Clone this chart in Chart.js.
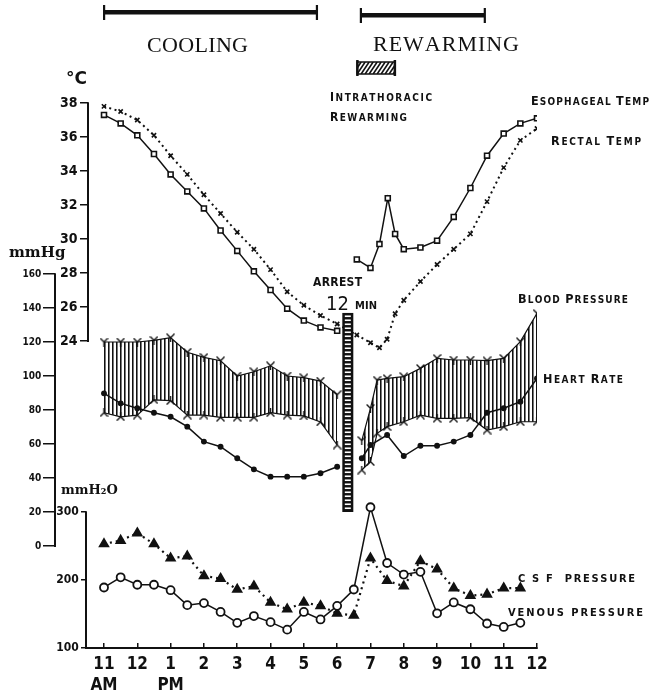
<!DOCTYPE html>
<html><head><meta charset="utf-8">
<script src="https://cdn.jsdelivr.net/npm/chart.js@4.4.0/dist/chart.umd.min.js"></script>
<style>html,body{margin:0;padding:0;background:#fff;}</style>
</head><body>
<canvas id="c" width="652" height="694"></canvas>
<script>
// ---------------- DATA ----------------
const hourLabels = ['11','12','1','2','3','4','5','6','7','8','9','10','11','12'];
const meridiem   = ['AM','','PM','','','','','','','','','','',''];
const tempTicks  = [24,26,28,30,32,34,36,38];
const mmHgTicks  = [0,20,40,60,80,100,120,140,160];
const mmH2OTicks = [100,200,300];

// hours after 11 AM; null value = break in the trace (cardiac arrest)
const esoTimes  = [0,0.5,1,1.5,2,2.5,3,3.5,4,4.5,5,5.5,6,6.5,7,7.3,7.59,8,8.27,8.52,8.74,9,9.5,10,10.5,11,11.5,12,12.5,13];
const esoTemp   = [37.3,36.8,36.1,35.0,33.8,32.8,31.8,30.5,29.3,28.1,27.0,25.9,25.2,24.8,24.6,null,28.8,28.3,29.7,32.4,30.3,29.4,29.5,29.9,31.3,33.0,34.9,36.2,36.8,37.1];

const rectTimes = [0,0.5,1,1.5,2,2.5,3,3.5,4,4.5,5,5.5,6,6.5,7,7.59,8,8.27,8.5,8.74,9,9.5,10,10.5,11,11.5,12,12.5,13];
const rectTemp  = [37.8,37.5,37.0,36.1,34.9,33.8,32.6,31.5,30.4,29.4,28.2,26.9,26.1,25.5,25.0,24.35,23.9,23.6,24.1,25.6,26.4,27.5,28.5,29.4,30.3,32.2,34.2,35.8,36.5];

const bpTimes   = [0,0.5,1,1.5,2,2.5,3,3.5,4,4.5,5,5.5,6,6.5,7,7.4,7.74,8,8.2,8.5,9,9.5,10,10.5,11,11.5,12,12.5,13];
const systolic  = [120,120,120,121,122.5,114,111,109,100,102.5,106,100,99,97,89,null,62,81,97.6,98.6,99.6,104.5,110.4,109.4,109.4,109,110.4,120.2,136.9];
const diastolic = [78.4,76,77,86,85.5,77,77,75.7,75.7,75.7,78.4,77,76.5,73,59.4,null,44.7,49.6,66.3,70.2,73.1,77,75.1,75.1,75.5,68.2,70.2,73.1,73.1];

const hrTimes   = [0,0.5,1,1.5,2,2.5,3,3.5,4,4.5,5,5.5,6,6.5,7,7.4,7.74,8,8.5,9,9.5,10,10.5,11,11.5,12,12.5,13];
const heartRate = [89.8,83.9,81,78.4,76,70.2,61.4,58.4,51.6,45.1,40.8,40.8,40.8,42.8,46.6,null,51.6,59.4,65.3,52.9,59,59,61.4,65.3,78.4,81,84.9,98.6];

const pTimes    = [0,0.5,1,1.5,2,2.5,3,3.5,4,4.5,5,5.5,6,6.5,7,7.5,8,8.5,9,9.5,10,10.5,11,11.5,12,12.5];
const csfPress  = [253,258,269,253,232,235,206,202,186,191,167,157,167,162,151,148,232,199,191,228,216,188,177,179,188,188];
const venPress  = [189,204,193,193,185,163,166,153,137,147,138,127,153,142,162,186,307,225,208,212,151,167,157,136,131,137];

// event bars (hours after 11 AM)
const phaseNames = ['COOLING','REWARMING'];
const phaseStart = [0, 7.71];
const phaseEnd   = [6.39, 11.43];
const intraThoracic = [7.6, 8.74];
const arrestTime = [7.32];

// ---------------- LAYOUT ----------------
const AREA = {left:86, right:537, top:95, bottom:648};
const pxPerHour = (537-104)/13;
const hx = p => (p-104)/pxPerHour;
function yr(v0,p0,v1,p1){const k=(p1-p0)/(v1-v0);return {min:v0+(AREA.bottom-p0)/k,max:v0+(AREA.top-p0)/k};}
const rT = yr(38,103,24,341), rP = yr(0,546,160,274), rW = yr(100,648,300,512);
const INK = '#111';
const COND = '"DejaVu Sans Condensed","Liberation Sans Narrow","DejaVu Sans",sans-serif';

const pts = (t,v)=>t.map((x,i)=>({x:x,y:v[i]}));

function mark(up){
  const s=9,c=document.createElement('canvas');c.width=s;c.height=s;
  const g=c.getContext('2d');g.strokeStyle=INK;g.lineWidth=1.4;g.lineCap='round';g.beginPath();
  if(up){g.moveTo(1,1);g.lineTo(4.5,4.5);g.lineTo(8,1);g.moveTo(4.5,4.5);g.lineTo(4.5,8.5);}
  else{g.moveTo(1,8);g.lineTo(4.5,4.5);g.lineTo(8,8);g.moveTo(4.5,4.5);g.lineTo(4.5,0.5);}
  g.stroke();return c;
}
const canvas=document.getElementById('c');
const mainCtx=canvas.getContext('2d');
const pc=document.createElement('canvas');pc.width=4;pc.height=4;
const pg=pc.getContext('2d');pg.fillStyle='#111';pg.fillRect(0,0,1,4);pg.fillStyle='#777';pg.fillRect(1,0,1,4);
const hatch=mainCtx.createPattern(pc,'repeat');

function yAxis(r,ticksArr,posPx,tl,size){
  return {type:'linear',min:r.min,max:r.max,position:{x:hx(posPx)},
    afterBuildTicks:s=>{s.ticks=ticksArr.map(v=>({value:v}));},
    ticks:{autoSkip:false,color:INK,font:{family:COND,size:size,weight:'bold'},callback:v=>v+'\u2009'},
    grid:{drawOnChartArea:false,drawTicks:true,tickLength:tl,color:INK,lineWidth:1.5},
    border:{display:false}};
}

// spines, event bars, labels
function fitText(ctx,text,x,y,w,big,small,family,weight){
  // small-caps style text stretched to width w
  const chars=[...text];let start=true;const items=[];
  for(const ch of chars){
    if(ch===' '){items.push({ch,size:small,space:true});start=true;continue;}
    items.push({ch,size:start?big:small});start=false;
  }
  let nat=0;
  for(const it of items){ctx.font=`${weight} ${it.size}px ${family}`;it.w=ctx.measureText(it.ch).width;nat+=it.w;}
  const sp=items.length>1?(w-nat)/(items.length-1):0;
  let cx=x;ctx.textBaseline='alphabetic';ctx.textAlign='left';
  for(const it of items){ctx.font=`${weight} ${it.size}px ${family}`;if(!it.space)ctx.fillText(it.ch,cx,y);cx+=it.w+sp;}
}
const labels=[
  {t:'ESOPHAGEAL TEMP',x:531,y:105,w:118,b:12.5,s:10},
  {t:'RECTAL TEMP',x:551,y:145,w:90,b:12.5,s:10},
  {t:'BLOOD PRESSURE',x:518,y:303,w:110,b:12.5,s:10},
  {t:'HEART RATE',x:543,y:383,w:80,b:12.5,s:10},
  {t:'INTRATHORACIC',x:330,y:101,w:102,b:12,s:10},
  {t:'REWARMING',x:330,y:121,w:77,b:12,s:10},
  {t:'ARREST',x:313,y:286,w:49,b:12,s:12},
  {t:'C S F  PRESSURE',x:518,y:582,w:117,b:11,s:11},
  {t:'VENOUS PRESSURE',x:508,y:616,w:135,b:11,s:11}
];
const overlay={id:'overlay',
  afterDatasetsDraw(chart){
    const ctx=chart.ctx,X=chart.scales.x;
    ctx.save();
    // arrest ladder bar
    const xc=X.getPixelForValue(arrestTime[0]);
    const top=chart.scales.yT.getPixelForValue(25.65), bot=chart.scales.yW.getPixelForValue(300);
    ctx.fillStyle=INK;ctx.fillRect(xc-5.5,top,11,bot-top);
    ctx.fillStyle='#fff';
    for(let y=top+2.5;y<bot-3;y+=4){ctx.fillRect(xc-3,y,6,1.6);}
    ctx.restore();
  },
  afterDraw(chart){
    const ctx=chart.ctx,X=chart.scales.x;
    ctx.save();ctx.strokeStyle=INK;ctx.fillStyle=INK;
    // partial axis spines
    for(const id of ['yT','yP','yW']){
      const s=chart.scales[id],o=s.options;
      const xp=X.getPixelForValue(o.position.x)-o.grid.tickLength;
      const tv=id==='yT'?tempTicks:id==='yP'?mmHgTicks:mmH2OTicks;
      ctx.lineWidth=2;ctx.beginPath();
      ctx.moveTo(xp,s.getPixelForValue(tv[tv.length-1])-0.75);ctx.lineTo(xp,s.getPixelForValue(tv[0])+1);ctx.stroke();
    }
    // phase bars
    const barY=[12,15];
    for(let i=0;i<2;i++){
      const a=X.getPixelForValue(phaseStart[i]),b=X.getPixelForValue(phaseEnd[i]);
      ctx.fillRect(a,barY[i]-2,b-a,4.5);
      ctx.fillRect(a-1,barY[i]-7,2.2,15);ctx.fillRect(b-1,barY[i]-7,2.2,15);
    }
    ctx.font='22px "Liberation Serif","DejaVu Serif",serif';
    fitText(ctx,phaseNames[0],147,52,101,22,22,'"Liberation Serif",serif','');
    fitText(ctx,phaseNames[1],373,51,146,22,22,'"Liberation Serif",serif','');
    // intrathoracic rewarming box
    const ia=X.getPixelForValue(intraThoracic[0]),ib=X.getPixelForValue(intraThoracic[1]);
    ctx.save();ctx.beginPath();ctx.rect(ia,62,ib-ia,12);ctx.clip();
    ctx.lineWidth=1.6;
    for(let x=ia-12;x<ib+12;x+=4){ctx.beginPath();ctx.moveTo(x,74);ctx.lineTo(x+8,62);ctx.stroke();}
    ctx.restore();
    ctx.lineWidth=1.5;ctx.strokeRect(ia,62,ib-ia,12);
    ctx.fillRect(ia-1,60,2.5,16);ctx.fillRect(ib-1.5,60,2.5,16);
    // labels
    for(const L of labels){fitText(ctx,L.t,L.x,L.y,L.w,L.b,L.s,COND,'bold');}
    ctx.textBaseline='alphabetic';ctx.textAlign='left';
    ctx.font='20px '+COND;ctx.fillText('12',326,310);
    ctx.font='bold 11px '+COND;fitText(ctx,'MIN',355,309,22,11,11,COND,'bold');
    ctx.font='bold 17px "DejaVu Sans",sans-serif';ctx.fillText('°C',66,84);
    ctx.font='bold 15px "DejaVu Serif",serif';ctx.fillText('mmHg',9,257);
    ctx.font='bold 13px "DejaVu Serif",serif';ctx.fillText('mmH₂O',61,494);
    ctx.restore();
  }
};

new Chart(canvas,{
  type:'line',
  data:{datasets:[
    {label:'Esophageal Temp',yAxisID:'yT',data:pts(esoTimes,esoTemp),order:0,
      borderColor:INK,borderWidth:1.5,pointStyle:'rect',pointRadius:3.5,pointBackgroundColor:'#fff',pointBorderColor:INK,pointBorderWidth:1.6,spanGaps:false,tension:0},
    {label:'Rectal Temp',yAxisID:'yT',data:pts(rectTimes,rectTemp),order:1,
      borderColor:INK,borderWidth:2,borderDash:[2,3.5],pointStyle:'crossRot',pointRadius:3,pointBorderColor:INK,pointBorderWidth:1.6,tension:0},
    {label:'Systolic',yAxisID:'yP',data:pts(bpTimes,systolic),order:6,
      borderColor:INK,borderWidth:1.2,pointStyle:mark(true),fill:{target:'+1'},backgroundColor:hatch,spanGaps:false,tension:0},
    {label:'Diastolic',yAxisID:'yP',data:pts(bpTimes,diastolic),order:5,
      borderColor:INK,borderWidth:1.2,pointStyle:mark(false),spanGaps:false,tension:0},
    {label:'Heart Rate',yAxisID:'yP',data:pts(hrTimes,heartRate),order:2,
      borderColor:INK,borderWidth:1.5,pointStyle:'circle',pointRadius:2.2,pointBackgroundColor:INK,pointBorderColor:INK,spanGaps:false,tension:0},
    {label:'CSF Pressure',yAxisID:'yW',data:pts(pTimes,csfPress),order:4,
      borderColor:INK,borderWidth:2.2,borderDash:[2,4],pointStyle:'triangle',pointRadius:4.5,pointBackgroundColor:INK,pointBorderColor:INK,tension:0},
    {label:'Venous Pressure',yAxisID:'yW',data:pts(pTimes,venPress),order:3,
      borderColor:INK,borderWidth:1.5,pointStyle:'circle',pointRadius:4,pointBackgroundColor:'#fff',pointBorderColor:INK,pointBorderWidth:1.8,tension:0}
  ]},
  options:{
    responsive:false,animation:false,devicePixelRatio:1,
    layout:{padding:{left:AREA.left,right:652-AREA.right,top:AREA.top,bottom:694-AREA.bottom}},
    plugins:{legend:{display:false},tooltip:{enabled:false}},
    scales:{
      x:{type:'linear',min:hx(AREA.left),max:13,position:{yW:100},
        afterBuildTicks:s=>{s.ticks=hourLabels.map((_,i)=>({value:i}));},
        ticks:{autoSkip:false,maxRotation:0,padding:12,color:INK,font:{family:COND,size:17,weight:'bold',lineHeight:1.25},
          callback:(v,i)=>meridiem[i]?[hourLabels[i],meridiem[i]]:hourLabels[i]},
        grid:{drawOnChartArea:false,drawTicks:true,tickLength:-6,color:INK,lineWidth:1.5},
        border:{display:true,color:INK,width:2}},
      yT:yAxis(rT,tempTicks,80,-8,14),
      yP:yAxis(rP,mmHgTicks,43,-12,10),
      yW:yAxis(rW,mmH2OTicks,81,-5,12)
    }
  },
  plugins:[overlay]
});
</script>
</body></html>
